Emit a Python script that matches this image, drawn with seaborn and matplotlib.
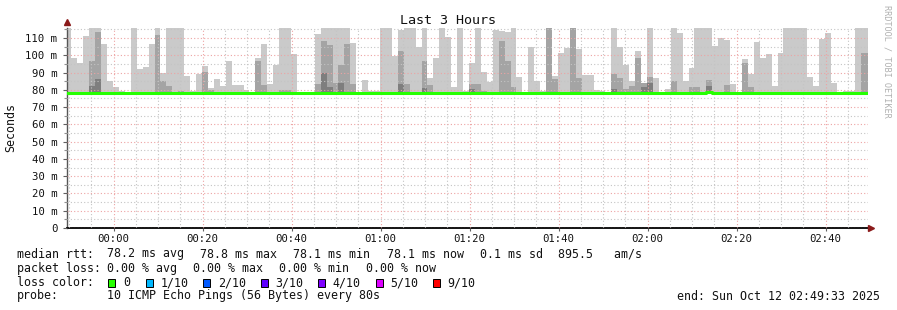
import numpy as np
import matplotlib
matplotlib.use("Agg")
import matplotlib.pyplot as plt
from matplotlib.patches import Rectangle
from matplotlib.ticker import FixedLocator, FixedFormatter
import seaborn as sns

sns.set_theme(style="white")
plt.rcParams["font.family"] = ["DejaVu Sans Mono", "DejaVu Sans"]

W, H = 897, 310

# ---------------- data (ms) ----------------
# 136 probe intervals of 80 s, first/last partially visible
smoke_max = [116, 98.6, 95.7, 111.0, 116, 116, 106.5, 85.3, 81.8, 79.5,
             78.6, 116, 92.0, 93.4, 106.5, 116, 90.0, 116, 116, 116,
             88.0, 79.5, 89.2, 94.0, 81.0, 86.3, 82.4, 96.9, 82.8, 82.8,
             80.0, 78.6, 98.6, 106.5, 83.4, 94.4, 116, 116, 100.6, 78.6,
             78.6, 78.6, 112.3, 116, 116, 116, 116, 116, 107.3, 78.6,
             85.7, 79.5, 79.5, 116, 116, 99.6, 114.6, 116, 116, 105.0,
             116, 86.8, 98.4, 116, 110.8, 81.8, 116, 79.5, 95.3, 116,
             90.5, 84.7, 114.6, 114.0, 113.5, 116, 87.6, 78.6, 105.0, 85.3,
             79.5, 116, 88.0, 101.5, 104.4, 116, 103.6, 88.6, 88.6, 79.8,
             79.3, 78.6, 116, 105.0, 94.4, 85.3, 102.5, 83.9, 116, 86.8,
             78.6, 80.2, 116, 113.0, 85.3, 92.5, 116, 116, 116, 105.4,
             110.2, 108.9, 83.4, 78.6, 97.9, 89.2, 107.5, 98.6, 100.7, 82.4,
             101.5, 116, 116, 116, 116, 87.2, 82.4, 109.4, 113.0, 83.9,
             78.6, 79.3, 79.3, 116, 116, 116]

smoke_p9 = [78.6] * 136
for k, v in {4: 96.9, 5: 113.5, 15: 111.8, 16: 85.0, 17: 82.2, 19: 79.5,
             23: 90.5, 24: 80.0, 32: 96.9, 33: 82.8, 36: 80.0, 37: 80.0,
             42: 83.4, 43: 108.3, 44: 106.0, 45: 84.2, 46: 94.4, 47: 106.5,
             48: 83.4, 56: 102.5, 57: 83.4, 60: 96.9, 61: 83.0, 68: 83.2,
             69: 83.2, 70: 79.5, 73: 108.0, 74: 96.9, 75: 81.8, 81: 116,
             82: 86.0, 85: 116, 86: 86.7, 92: 89.2, 93: 86.7, 94: 80.5,
             95: 82.4, 96: 98.6, 97: 83.9, 98: 87.6, 102: 85.3, 105: 81.8,
             106: 81.8, 108: 85.7, 111: 82.8, 114: 95.3, 115: 81.8,
             134: 101.5, 135: 101.5}.items():
    smoke_p9[k] = v

smoke_p8 = [78.6] * 136
for k, v in {4: 82.4, 5: 86.3, 43: 89.7, 44: 81.8, 46: 84.2, 56: 83.4,
             60: 81.0, 68: 80.5, 92: 80.5, 97: 81.8, 98: 83.9, 108: 82.5}.items():
    smoke_p8[k] = v

smoke_min = 77.9

median_rtt = [78.2] * 136
for k, v in {3: 78.4, 7: 78.4, 8: 78.4, 11: 78.4, 12: 78.4, 13: 78.4,
             22: 78.4, 44: 78.1, 60: 78.4, 72: 78.1, 97: 78.1,
             108: 78.8, 109: 78.4, 120: 78.1}.items():
    median_rtt[k] = v

x_tick_labels = ["00:00", "00:20", "00:40", "01:00", "01:20",
                 "01:40", "02:00", "02:20", "02:40"]
y_tick_values = [0, 10, 20, 30, 40, 50, 60, 70, 80, 90, 100, 110]
y_tick_labels = ["0", "10 m", "20 m", "30 m", "40 m", "50 m", "60 m",
                 "70 m", "80 m", "90 m", "100 m", "110 m"]

loss_labels = ["0", "1/10", "2/10", "3/10", "4/10", "5/10", "9/10"]
loss_colors = ["#26ff00", "#00b8ff", "#0059ff", "#5e00ff", "#7e00ff",
               "#dd00ff", "#ff0000"]

# ---------------- geometry ----------------
SPAN_MIN = 180.0              # 23:49:33 -> 02:49:33
STEP = 80 / 60.0
FIRST_EDGE = 1.0              # first step boundary, minutes after start
MIDNIGHT = 10.45              # 00:00 in minutes after start

n = len(smoke_max)
edges = FIRST_EDGE + STEP * (np.arange(n + 1) - 1)

fig = plt.figure(figsize=(W / 100, H / 100), dpi=100)
fig.patch.set_facecolor("white")
ax = fig.add_axes([67 / W, (H - 228) / H, 801 / W, 200 / H])
ax.set_facecolor("white")

# smoke layers
ax.stairs(smoke_max, edges, baseline=smoke_min, fill=True, color="#cacaca", lw=0, zorder=1)
ax.stairs(smoke_p9, edges, baseline=smoke_min, fill=True, color="#a4a4a4", lw=0, zorder=1.1)
ax.stairs(smoke_p8, edges, baseline=smoke_min, fill=True, color="#7e7e7e", lw=0, zorder=1.2)

# median
sns.lineplot(x=edges, y=np.append(median_rtt, median_rtt[-1]), ax=ax,
             drawstyle="steps-post", color="#26ff00", linewidth=2.2,
             estimator=None, sort=False, zorder=3)

ax.set_xlim(0, SPAN_MIN)
ax.set_ylim(0, 115.8)

# ticks and grid
xmaj = [MIDNIGHT + 20 * i for i in range(len(x_tick_labels))]
xmin = [MIDNIGHT - 10 + 5 * i for i in range(38)]
ax.xaxis.set_major_locator(FixedLocator(xmaj))
ax.xaxis.set_major_formatter(FixedFormatter(x_tick_labels))
ax.xaxis.set_minor_locator(FixedLocator([v for v in xmin if 0 < v < SPAN_MIN]))
ax.yaxis.set_major_locator(FixedLocator(y_tick_values))
ax.yaxis.set_major_formatter(FixedFormatter(y_tick_labels))
ax.yaxis.set_minor_locator(FixedLocator([5 + 10 * i for i in range(12)]))

ax.set_axisbelow(False)
ax.grid(which="major", axis="both", color="#eda3a3", linestyle=(0, (1, 2)), linewidth=0.8, zorder=2)
ax.grid(which="minor", axis="both", color="#c4c4c4", linestyle=(0, (1, 2)), linewidth=0.8, zorder=2)

ax.tick_params(axis="y", which="major", left=True, length=3, width=0.8, color="#606060",
               direction="out", pad=4, labelsize=7.7, labelcolor="#111111")
ax.tick_params(axis="y", which="minor", left=True, length=2, width=0.8, color="#909090", direction="out")
ax.tick_params(axis="x", which="major", bottom=True, length=2, width=0.8, color="#606060",
               direction="out", pad=2, labelsize=7.7, labelcolor="#111111")
ax.tick_params(axis="x", which="minor", bottom=False)

for s in ["top", "right"]:
    ax.spines[s].set_visible(False)
ax.spines["left"].set_color("#555555")
ax.spines["left"].set_linewidth(1.0)
ax.spines["bottom"].set_color("#000000")
ax.spines["bottom"].set_linewidth(1.3)

# axis arrows
ax.plot([0], [1.03], marker="^", color="#8b1a1a", markersize=5, transform=ax.transAxes, clip_on=False, zorder=5)
ax.plot([1.004], [0], marker=">", color="#8b1a1a", markersize=5, transform=ax.transAxes, clip_on=False, zorder=5)

ax.set_xlabel("")
ax.set_ylabel("")

def P(x, y):
    return (x / W, 1 - y / H)

fs = 8.4
fig.text(*P(448, 20), "Last 3 Hours", ha="center", va="center", fontsize=9.6, color="#111111")
fig.text(*P(11, 127), "Seconds", ha="center", va="center", rotation=90, fontsize=fs, color="#111111")
fig.text(*P(886.5, 5), "RRDTOOL / TOBI OETIKER", ha="center", va="top", rotation=270,
         fontsize=6.1, color="#b0b0b0")

line1 = [(16.7, "median rtt:"), (107.3, "78.2 ms avg"), (200, "78.8 ms max"),
         (293.3, "78.1 ms min"), (386.7, "78.1 ms now"), (480, "0.1 ms sd"),
         (558.3, "895.5   am/s")]
line2 = [(16.7, "packet loss:"), (107.3, "0.00 % avg"), (193.3, "0.00 % max"),
         (279.3, "0.00 % min"), (365.7, "0.00 % now")]
for x, t in line1:
    fig.text(*P(x, 254), t, ha="left", va="center", fontsize=fs, color="#111111")
for x, t in line2:
    fig.text(*P(x, 268.3), t, ha="left", va="center", fontsize=fs, color="#111111")

fig.text(*P(16.7, 282.7), "loss color:", ha="left", va="center", fontsize=fs, color="#111111")
box_x = [108.3, 145.7, 203.3, 261, 318, 375.7, 433]
for bx, lab, col in zip(box_x, loss_labels, loss_colors):
    fig.patches.append(Rectangle(((bx) / W, 1 - 286.5 / H), 7 / W, 8 / H,
                                 transform=fig.transFigure, facecolor=col,
                                 edgecolor="#000000", linewidth=0.7))
    fig.text(*P(bx + 14.5, 282.7), lab, ha="left", va="center", fontsize=fs, color="#111111")

fig.text(*P(16.7, 296), "probe:", ha="left", va="center", fontsize=fs, color="#111111")
fig.text(*P(107.3, 296), "10 ICMP Echo Pings (56 Bytes) every 80s", ha="left", va="center",
         fontsize=fs, color="#111111")
fig.text(*P(880, 296), "end: Sun Oct 12 02:49:33 2025", ha="right", va="center",
         fontsize=fs, color="#111111")

fig.savefig("out.png", dpi=100, facecolor="white")
